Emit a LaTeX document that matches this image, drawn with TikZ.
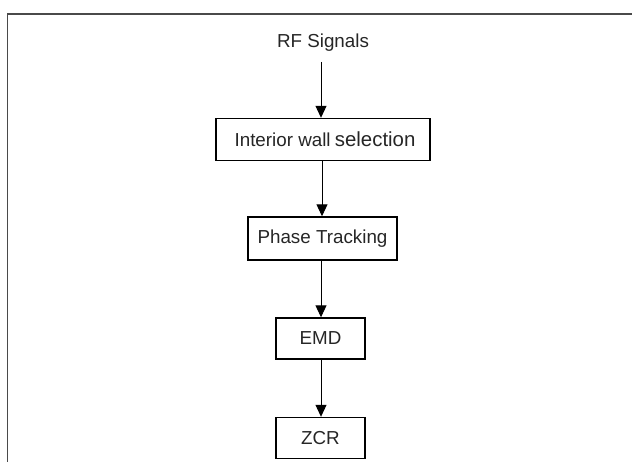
\documentclass[tikz,border=0pt]{standalone}
\usepackage{fontspec}
\setmainfont{Liberation Sans}
\usetikzlibrary{arrows.meta}
\definecolor{txt}{HTML}{262626}
\definecolor{framecol}{HTML}{4A4A4A}
\tikzset{
  stage/.style={draw=black, line width=1.4pt, text=txt, inner sep=0pt,
    font=\fontsize{18.8}{20}\selectfont},
  flow/.style={draw=black, line width=1pt, -{Triangle[length=12pt,width=11pt]}},
}
\begin{document}
\begin{tikzpicture}[x=1pt, y=-1pt]
  \useasboundingbox (0,0) rectangle (632,462);
  \fill[white] (0,0) rectangle (632,462);
  % open frame: top and left edges only
  \draw[framecol, line width=1.2pt] (7.5,462) -- (7.5,14) -- (632,14);

  \node[text=txt, font=\fontsize{18.8}{20}\selectfont, anchor=base] (rf) at (323,48) {RF Signals};
  \coordinate (rfout) at (321,62);

  \node[stage, minimum width=214pt, minimum height=42pt] (wall) at (323,139.5)
    {\hspace{4pt}Interior wall\hspace{-1pt} {\fontsize{20.4}{22}\selectfont selection}};
  \node[stage, minimum width=149pt, minimum height=43pt] (phase) at (322.5,238.5) {Phase Tracking};
  \node[stage, minimum width=89pt, minimum height=41pt] (emd) at (320.5,338.5) {EMD};
  \node[stage, minimum width=89pt, minimum height=41pt] (zcr) at (320.5,438) {ZCR};

  \draw[flow] (rfout) -- (rfout |- wall.north);
  \draw[flow] (wall.south -| 322,0) -- (phase.north -| 322,0);
  \draw[flow] (phase.south -| 321,0) -- (emd.north -| 321,0);
  \draw[flow] (emd.south -| 321,0) -- (zcr.north -| 321,0);
\end{tikzpicture}
\end{document}
